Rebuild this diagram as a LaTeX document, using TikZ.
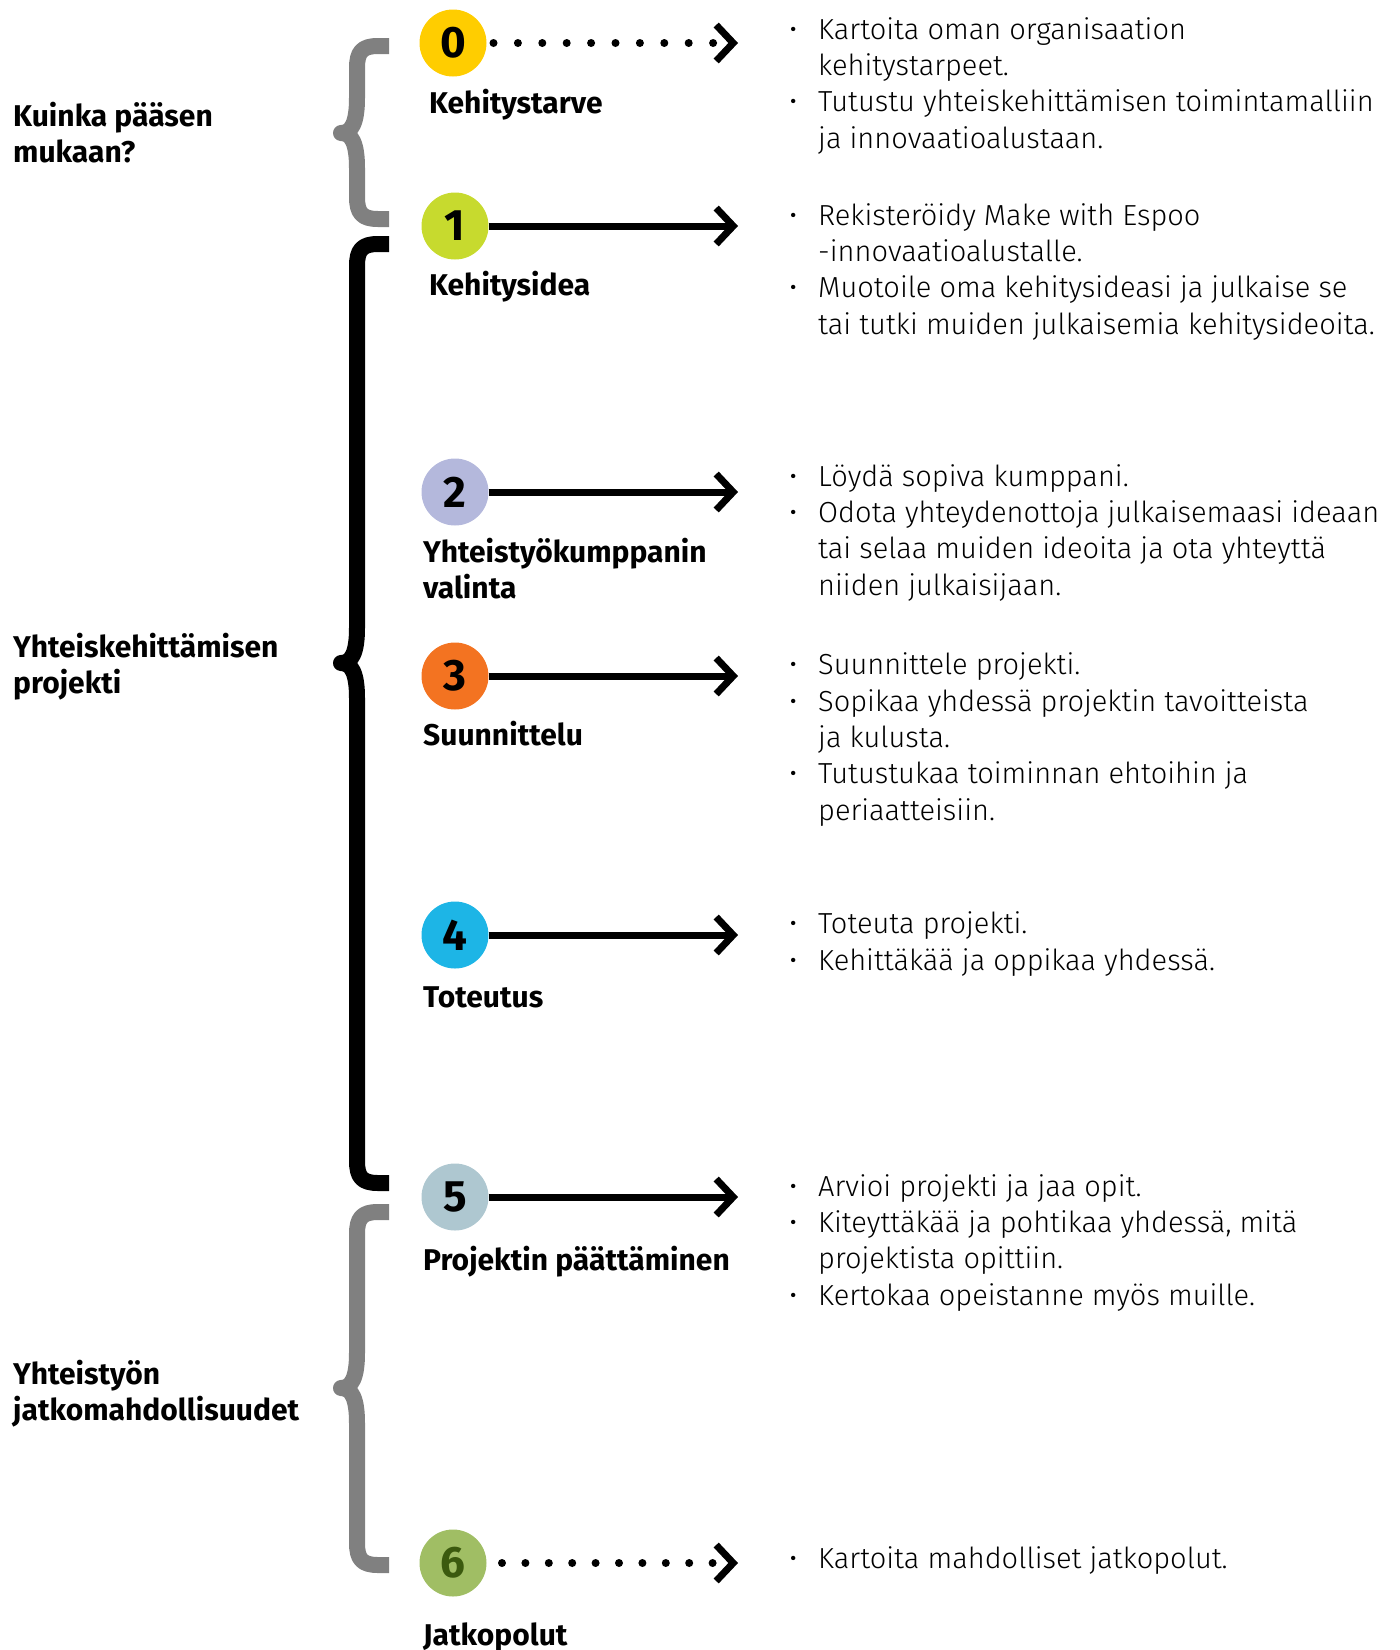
\documentclass[tikz,border=0pt]{standalone}
\usepackage{fontspec}
\setmainfont{Fira Sans}
\newfontfamily\lightfont{Fira Sans Light}
\usepackage{tikz}
\usetikzlibrary{arrows.meta, positioning}
\definecolor{phaseyellow}{RGB}{255, 205, 0}
\definecolor{phaselime}{RGB}{199, 218, 46}
\definecolor{phaselilac}{RGB}{180, 184, 220}
\definecolor{phaseorange}{RGB}{243, 115, 33}
\definecolor{phasecyan}{RGB}{29, 181, 230}
\definecolor{phasesteel}{RGB}{174, 199, 208}
\definecolor{phasegreen}{RGB}{160, 190, 100}
\definecolor{digitgreen}{RGB}{59, 90, 14}
\definecolor{bracegrey}{RGB}{128, 128, 128}
\newcommand{\bpoint}{\makebox[29pt][l]{\textbullet}}
\newcommand{\bindent}{\hspace*{29pt}}

\begin{document}
\begin{tikzpicture}[
    x=1pt, y=-1pt,
    phase/.style={circle, minimum size=67pt, inner sep=0pt, outer sep=0pt, font=\fontsize{44}{44}\selectfont\bfseries},
    phaselabel/.style={anchor=base west, align=left, inner sep=0pt, font=\fontsize{30}{36.5}\selectfont\bfseries},
    grouplabel/.style={anchor=base west, align=left, inner sep=0pt, font=\fontsize{30}{36.5}\selectfont\bfseries},
    infotext/.style={anchor=base west, align=left, inner sep=0pt, font=\fontsize{29}{36.3}\selectfont\lightfont},
    arrow/.style={line width=7pt, -{Straight Barb[length=17pt, width=36pt, line width=7pt]}},
    dotarrow/.style={arrow, line width=8pt, dash pattern=on 0pt off 24.4pt, line cap=round, shorten <=7pt},
    bracegray/.style={draw=bracegrey, line width=16pt, line join=round},
    braceblack/.style={draw=black, line width=16pt, line join=round}
]
    \useasboundingbox (0,0) rectangle (1400,1650);

    % group labels on the left (placed at the baseline of their last line)
    \node[grouplabel] (g0) at (13,162.5) {Kuinka pääsen\\mukaan?};
    \node[grouplabel] (g1) at (13,693.5) {Yhteiskehittämisen\\projekti};
    \node[grouplabel] (g2) at (13,1420.5) {Yhteistyön\\jatkomahdollisuudet};

    % braces
    \draw[bracegray] (389,46) -- (378,46) .. controls (362,46) and (357,52) .. (357,68) -- (357,98)
        .. controls (357,122) and (352,133) .. (341,133) .. controls (352,133) and (357,144) .. (357,168)
        -- (357,197) .. controls (357,213) and (362,219) .. (378,219) -- (389,219);
    \draw[braceblack] (389,244) -- (378,244) .. controls (362,244) and (357,250) .. (357,266) -- (357,628)
        .. controls (357,652) and (352,663) .. (341,663) .. controls (352,663) and (357,674) .. (357,698)
        -- (357,1161) .. controls (357,1177) and (362,1183) .. (378,1183) -- (389,1183);
    \draw[bracegray] (389,1212) -- (378,1212) .. controls (362,1212) and (357,1218) .. (357,1234) -- (357,1353)
        .. controls (357,1377) and (352,1388) .. (341,1388) .. controls (352,1388) and (357,1399) .. (357,1423)
        -- (357,1543) .. controls (357,1559) and (362,1565) .. (378,1565) -- (389,1565);

    % phases
    \node[phase, fill=phaseyellow] (z0) at (453,43) {0};
    \node[phase, fill=phaselime] (z1) at (455,226) {1};
    \node[phase, fill=phaselilac] (z2) at (455,492) {2};
    \node[phase, fill=phaseorange] (z3) at (455,676) {3};
    \node[phase, fill=phasecyan] (z4) at (455,935) {4};
    \node[phase, fill=phasesteel] (z5) at (455,1197) {5};
    \node[phase, fill=phasegreen, text=digitgreen] (z6) at (453,1563) {6};

    \node[phaselabel] (l0) at (429,113) {Kehitystarve};
    \node[phaselabel] (l1) at (429,295) {Kehitysidea};
    \node[phaselabel] (l2) at (423,598.5) {Yhteistyökumppanin\\valinta};
    \node[phaselabel] (l3) at (423,745) {Suunnittelu};
    \node[phaselabel] (l4) at (423,1007) {Toteutus};
    \node[phaselabel] (l5) at (423,1270) {Projektin päättäminen};
    \node[phaselabel] (l6) at (423,1645) {Jatkopolut};

    % arrow ends
    \coordinate (e0) at (738,43);
    \coordinate (e1) at (738,226);
    \coordinate (e2) at (738,492);
    \coordinate (e3) at (738,676);
    \coordinate (e4) at (738,935);
    \coordinate (e5) at (738,1197);
    \coordinate (e6) at (738,1563);

    \draw[dotarrow] (z0) -- (e0);
    \draw[arrow] (z1) -- (e1);
    \draw[arrow] (z2) -- (e2);
    \draw[arrow] (z3) -- (e3);
    \draw[arrow] (z4) -- (e4);
    \draw[arrow] (z5) -- (e5);
    \draw[dotarrow, dash pattern=on 0pt off 23.4pt, shorten <=15.5pt] (z6) -- (e6);

    % what to do in each phase (placed at the baseline of the last line)
    \node[infotext] (t0) at (789,148) {\bpoint Kartoita oman organisaation\\\bindent kehitystarpeet.\\\bpoint Tutustu yhteiskehittämisen toimintamalliin\\\bindent ja innovaatioalustaan.};
    \node[infotext] (t1) at (789,334) {\bpoint Rekisteröidy Make with Espoo\\\bindent -innovaatioalustalle.\\\bpoint Muotoile oma kehitysideasi ja julkaise se\\\bindent tai tutki muiden julkaisemia kehitysideoita.};
    \node[infotext] (t2) at (789,595) {\bpoint Löydä sopiva kumppani.\\\bpoint Odota yhteydenottoja julkaisemaasi ideaan\\\bindent tai selaa muiden ideoita ja ota yhteyttä\\\bindent niiden julkaisijaan.};
    \node[infotext] (t3) at (789,820) {\bpoint Suunnittele projekti.\\\bpoint Sopikaa yhdessä projektin tavoitteista\\\bindent ja kulusta.\\\bpoint Tutustukaa toiminnan ehtoihin ja\\\bindent periaatteisiin.};
    \node[infotext] (t4) at (789,970) {\bpoint Toteuta projekti.\\\bpoint Kehittäkää ja oppikaa yhdessä.};
    \node[infotext] (t5) at (789,1305) {\bpoint Arvioi projekti ja jaa opit.\\\bpoint Kiteyttäkää ja pohtikaa yhdessä, mitä\\\bindent projektista opittiin.\\\bpoint Kertokaa opeistanne myös muille.};
    \node[infotext] (t6) at (789,1568) {\bpoint Kartoita mahdolliset jatkopolut.};
\end{tikzpicture}
\end{document}
